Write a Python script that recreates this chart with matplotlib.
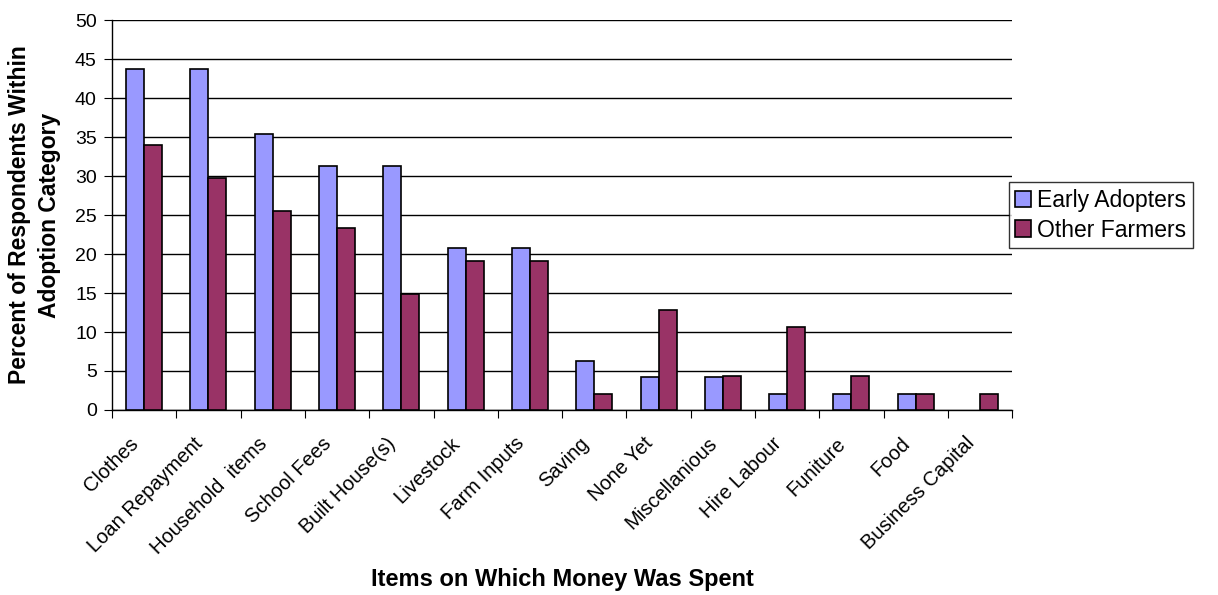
import numpy as np
import matplotlib.pyplot as plt
import matplotlib.transforms as mtransforms

plt.rcParams['font.family'] = ['Liberation Sans', 'DejaVu Sans']

# data
items = ['Clothes', 'Loan Repayment', 'Household  items', 'School Fees',
         'Built House(s)', 'Livestock', 'Farm Inputs', 'Saving', 'None Yet',
         'Miscellanious', 'Hire Labour', 'Funiture', 'Food', 'Business Capital']
early_adopters = [43.75, 43.75, 35.4, 31.25, 31.25, 20.8, 20.8, 6.25, 4.2,
                  4.2, 2.1, 2.1, 2.1, 0]
other_farmers = [34.0, 29.8, 25.5, 23.4, 14.9, 19.1, 19.1, 2.1, 12.8,
                 4.3, 10.6, 4.3, 2.1, 2.1]
series_names = ['Early Adopters', 'Other Farmers']
colors = ['#9999FF', '#993366']

fig = plt.figure(figsize=(12.18, 5.95), dpi=100)
ax = fig.add_axes([0.092, 0.311, 0.739, 0.655])

x = np.arange(len(items))
w = 0.28
for vals, off, c, name in [(early_adopters, -w / 2, colors[0], series_names[0]),
                           (other_farmers, w / 2, colors[1], series_names[1])]:
    lw = [1.2 if v > 0 else 0 for v in vals]  # empty bars draw nothing
    ax.bar(x + off, vals, w, color=c, edgecolor='black', linewidth=lw,
           label=name, zorder=3)

ax.set_xlim(-0.5, len(items) - 0.5)
ax.set_ylim(0, 50)
ax.set_yticks(range(0, 51, 5))
ax.yaxis.grid(True, color='black', linewidth=1)
ax.set_axisbelow(True)

# category ticks sit between the groups
ax.set_xticks(np.arange(len(items) + 1) - 0.5, minor=False)
ax.set_xticklabels([])
ax.set_xticks(x, minor=True)
ax.set_xticklabels(items, minor=True, rotation=45, ha='right', va='center',
                   rotation_mode='anchor', fontsize=14.5)
ax.tick_params(axis='x', which='minor', length=0, pad=20)
ax.tick_params(axis='x', which='major', length=6, direction='out')
ax.tick_params(axis='y', labelsize=14, length=6, direction='out', pad=5)

# nudge the slanted labels a little left, like the original
shift = mtransforms.ScaledTranslation(-6 / 72, -2 / 72, fig.dpi_scale_trans)
for lab in ax.get_xticklabels(minor=True):
    lab.set_transform(lab.get_transform() + shift)

for s in ['top', 'right']:
    ax.spines[s].set_visible(False)
ax.spines['left'].set_linewidth(1)
ax.spines['bottom'].set_linewidth(1)

ax.set_ylabel('Percent of Respondents Within\nAdoption Category',
              fontsize=16.5, fontweight='bold', labelpad=10, linespacing=1.4)
fig.text(0.462, 0.015, 'Items on Which Money Was Spent', ha='center',
         fontsize=17, fontweight='bold')

leg = ax.legend(loc='center left', bbox_to_anchor=(0.996, 0.50), fontsize=16.5,
                frameon=True, fancybox=False, edgecolor='black',
                handlelength=0.7, handleheight=0.7, handletextpad=0.25,
                borderpad=0.3, labelspacing=0.3, borderaxespad=0)
leg.get_frame().set_linewidth(1)

fig.savefig('out.png', dpi=100)
